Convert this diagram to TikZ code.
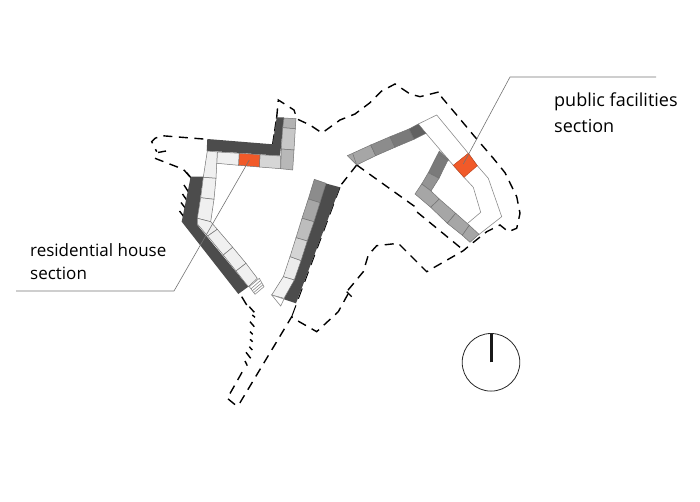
\documentclass[tikz,border=0pt]{standalone}
\usepackage{fontspec}
\setmainfont{Open Sans}
\definecolor{sectionorange}{HTML}{F15A29}
\tikzset{
	outline/.style={draw=black!45, line width=0.6pt},
	cell/.style={draw=black!55, line width=0.5pt},
	site/.style={line width=1.4pt, dash pattern=on 9pt off 6.5pt},
	tick/.style={line width=1.4pt},
	leader/.style={draw=black!55, line width=0.6pt},
	label/.style={anchor=west, font=\fontsize{17}{20}\selectfont, inner sep=0pt},
}

\begin{document}
\begin{tikzpicture}[x=1pt, y=-1pt]
			%%%%% START %%%%%
			\useasboundingbox (0, 0) rectangle (700, 502);
			
			% site boundary
			\draw[site] (276.7, 117.3) -- (278.3, 100) -- (294, 110) -- (297, 119) -- (310, 125) -- (322, 133) -- (340, 120) -- (355, 114) -- (370, 102.7) -- (381.7, 91) -- (395, 84) -- (410, 94) -- (420, 96.7) -- (440, 91.7) -- (441.7, 97.3) -- (456.7, 115) -- (473.3, 135) -- (493.3, 158.3) -- (505, 172.7) -- (516.7, 196.7) -- (520, 213.3) -- (516.7, 228.3) -- (508.3, 231.7) -- (500, 225) -- (486.7, 231.7) -- (470, 245) -- (463.3, 250.7) -- (426.7, 271.7) -- (398.3, 243.3) -- (376.7, 245.7) -- (368.3, 255) -- (363.3, 271.7) -- (346.7, 291.7);
			\draw[site] (348, 294) -- (338.3, 311.7) -- (316.7, 331.7) -- (295, 319.3) -- (291.7, 316.7) -- (240, 402.7) -- (236.7, 406) -- (227.3, 398.3) -- (245, 367);
			\draw[site] (356.7, 165) -- (415, 206.7) -- (417, 212) -- (463.3, 250);
			\draw[site] (356.7, 165) -- (337, 190);
			\draw[site] (203.3, 139) -- (161.7, 135.7) -- (155, 138.3) -- (151.7, 141.7) -- (156.7, 151.7);
			\draw[site] (155, 158.3) -- (183.3, 169.3) -- (190, 176.7);
			\draw[tick] (158, 152.5) -- (166, 151) (346.7, 291.7) -- (351.7, 296.7);
			\draw[tick] (241.7, 296.7) -- (246.7, 305) (249.3, 306.7) -- (254.3, 312.3) (252.3, 315) -- (255, 317.3) (250, 321.7) -- (254.3, 326.7) (250, 331.7) -- (252.7, 334.3) (250, 339.3) -- (252.7, 341.7) (249.3, 346.7) -- (252.3, 350) (246, 352.3) -- (250.7, 358.3) (245, 361) -- (247.3, 365.7);
			\draw[line width=1pt, dash pattern=on 11pt off 7pt] (340, 187.3) -- (296.7, 303.3) -- (291.7, 316.7);
			\draw[site, dash pattern=on 10pt off 3pt] (272.7, 144.3) -- (276.7, 117.3);
			
			% teeth of the residential wing
			\draw[tick] (179.5, 211) -- (184, 217);
			\draw[tick] (181, 202.5) -- (186, 209);
			\draw[tick] (182.5, 194) -- (187, 200.5);
			\draw[tick] (184, 185) -- (188.5, 192);
			\draw[tick] (186.5, 172.5) -- (191.5, 178.5);
			
			% residential wing
			\fill[black!70] (207.3, 139) -- (272.7, 144.3) -- (276.7, 117.3) -- (284, 117.3) -- (280, 155.7) -- (206.7, 150.7) -- cycle;
			\draw[cell, fill=black!30] (284, 118) -- (296, 118.7) -- (295.3, 128.7) -- (282.7, 127.7) -- cycle;
			\draw[cell, fill=black!22] (282.7, 127.7) -- (295.3, 128.7) -- (294, 150) -- (281.3, 149) -- cycle;
			\draw[cell, fill=black!28] (281.3, 149) -- (294, 150) -- (292.7, 170) -- (280.7, 168.7) -- cycle;
			\draw[cell, fill=black!6] (217.3, 152) -- (239.3, 153.3) -- (238.7, 165.3) -- (216.7, 163.3) -- cycle;
			\draw[cell, fill=black!16] (260, 154.7) -- (280.7, 156) -- (280.7, 168.7) -- (259.3, 167) -- cycle;
			\draw[cell, fill=sectionorange] (239.3, 153.3) -- (260, 154.7) -- (259.3, 167) -- (238.7, 165.3) -- cycle;
			
			\fill[black!70] (190.7, 176.7) -- (203.3, 176.7) -- (197.3, 220) -- (197.3, 225) -- (248.3, 286.7) -- (238.3, 294) -- (181.7, 221.7) -- cycle;
			\draw[cell, fill=black!6] (207.3, 151) -- (217.3, 152) -- (216, 178.3) -- (203.3, 177.3) -- cycle;
			\draw[cell, fill=black!6] (203.3, 177.3) -- (216, 178.3) -- (214, 199.3) -- (200.7, 197.7) -- cycle;
			\draw[cell, fill=black!6] (200.7, 197.7) -- (214, 199.3) -- (210.7, 221.7) -- (197.3, 218.3) -- cycle;
			\draw[cell, fill=black!6] (197.3, 218.3) -- (210.7, 221.7) -- (217.3, 229.3) -- (207.7, 236) -- (197.3, 224) -- cycle;
			\draw[cell, fill=black!6] (207.7, 236) -- (217.3, 229.3) -- (232.7, 247.3) -- (223.3, 255) -- cycle;
			\draw[cell, fill=black!6] (223.3, 255) -- (232.7, 247.3) -- (246, 263.3) -- (236, 271) -- cycle;
			\draw[cell, fill=black!6] (236, 271) -- (246, 263.3) -- (257.3, 278.3) -- (248.3, 286.7) -- cycle;
			
			% stairs at the end of the wing
			\draw[outline, fill=white] (249.3, 286.7) -- (259.3, 278.3) -- (264, 286.7) -- (255, 294.3) -- cycle;
			\draw[outline] (251, 288.8) -- (260.5, 280.5);
			\draw[outline] (252.3, 290.8) -- (261.8, 282.8);
			\draw[outline] (253.7, 292.6) -- (263, 284.7);
			
			% middle block
			\fill[black!70] (326, 183.5) -- (340, 187.3) -- (296, 303.3) -- (284, 299.3) -- cycle;
			\draw[cell, fill=black!45] (314.3, 179.3) -- (326, 183.3) -- (320, 202.7) -- (308.3, 199) -- cycle;
			\draw[cell, fill=black!35] (308.3, 199) -- (320, 202.7) -- (314, 221.7) -- (302, 218.3) -- cycle;
			\draw[cell, fill=black!26] (302, 218.3) -- (314, 221.7) -- (307.3, 241) -- (296, 237.7) -- cycle;
			\draw[cell, fill=black!17] (296, 237.7) -- (307.3, 241) -- (301, 260.7) -- (290, 256.7) -- cycle;
			\draw[cell, fill=black!8] (290, 256.7) -- (301, 260.7) -- (294.3, 280) -- (283.3, 276.7) -- cycle;
			\draw[cell, fill=black!5] (283.3, 276.7) -- (294.3, 280) -- (284, 298.3) -- (271.7, 295) -- cycle;
			\draw[outline, fill=white] (271.7, 295) -- (284, 299) -- (280.7, 306) -- cycle;
			
			% public facilities outline
			\draw[outline] (418.3, 124) -- (436.7, 115) -- (468.3, 153.3) -- (477.3, 165.7) -- (488.3, 178.3) -- (501.7, 216.7) -- (478.3, 235);
			\draw[outline] (426, 133.3) -- (453.3, 165.3) -- (464, 177.3) -- (473.3, 187.3) -- (480.7, 212.3) -- (467.7, 223.3);
			\draw[cell, fill=sectionorange, draw=sectionorange!80!black] (468.3, 153.3) -- (477.3, 165.7) -- (464, 177.3) -- (453.3, 165.3) -- cycle;
			
			% upper strip
			\draw[cell, fill=black!35] (347.3, 155.7) -- (370.7, 145) -- (375.7, 155.7) -- (356.7, 165) -- cycle;
			\draw[cell, fill=black!45] (370.7, 145) -- (390, 136.7) -- (395, 147.3) -- (375.7, 155.7) -- cycle;
			\draw[cell, fill=black!52] (390, 136.7) -- (409, 129) -- (414, 139.3) -- (395, 147.3) -- cycle;
			\draw[cell, fill=black!62] (409, 129) -- (418.3, 124) -- (426, 133.3) -- (414, 139.3) -- cycle;
			\draw[cell] (352.7, 153.5) -- (356.7, 165);
			
			% lower strip
			\draw[cell, fill=black!52] (439.3, 151) -- (448.3, 159.3) -- (439, 178.3) -- (428.3, 172.7) -- cycle;
			\draw[cell] (439.3, 155) -- (449, 161);
			\draw[cell, fill=black!42] (428.3, 172.7) -- (439, 178.3) -- (431, 191) -- (421.7, 184) -- cycle;
			\draw[cell, fill=black!35] (421.7, 184) -- (431, 191) -- (439.3, 199) -- (430.7, 207.3) -- (415, 194) -- cycle;
			\draw[cell, fill=black!35] (439.3, 199) -- (455.7, 213.3) -- (447.3, 223.3) -- (430.7, 207.3) -- cycle;
			\draw[cell, fill=black!35] (455.7, 213.3) -- (469.3, 225.3) -- (462.3, 235.3) -- (447.3, 223.3) -- cycle;
			\draw[cell, fill=black!35] (469.3, 225.3) -- (479, 234.3) -- (470, 242.3) -- (462.3, 235.3) -- cycle;
			
			% leaders and labels
			\node[label] (residential) at (30, 250) {residential house};
			\node[label] (residentialB) at (30, 273) {section};
			\node[label, font=\fontsize{18}{20}\selectfont] (public) at (554, 102) {public facilities};
			\node[label, font=\fontsize{18}{20}\selectfont] (publicB) at (554, 126) {section};
			
			\coordinate (resTip) at (249.3, 160);
			\coordinate (resBend) at (174, 291);
			\coordinate (resEnd) at (16, 291);
			\coordinate (pubTip) at (463.3, 164);
			\coordinate (pubBend) at (510, 77);
			\coordinate (pubEnd) at (656, 77);
			\draw[leader] (resTip) -- (resBend) -- (resEnd);
			\draw[leader] (pubTip) -- (pubBend) -- (pubEnd);
			
			% north sign
			\coordinate (north) at (491, 362.3);
			\draw[line width=0.8pt, draw=black!85] (north) circle (28.8);
			\draw[line width=3pt, draw=black!90] (north) -- (491, 334);
			
			%%%%% END %%%%%
		\end{tikzpicture}
\end{document}
